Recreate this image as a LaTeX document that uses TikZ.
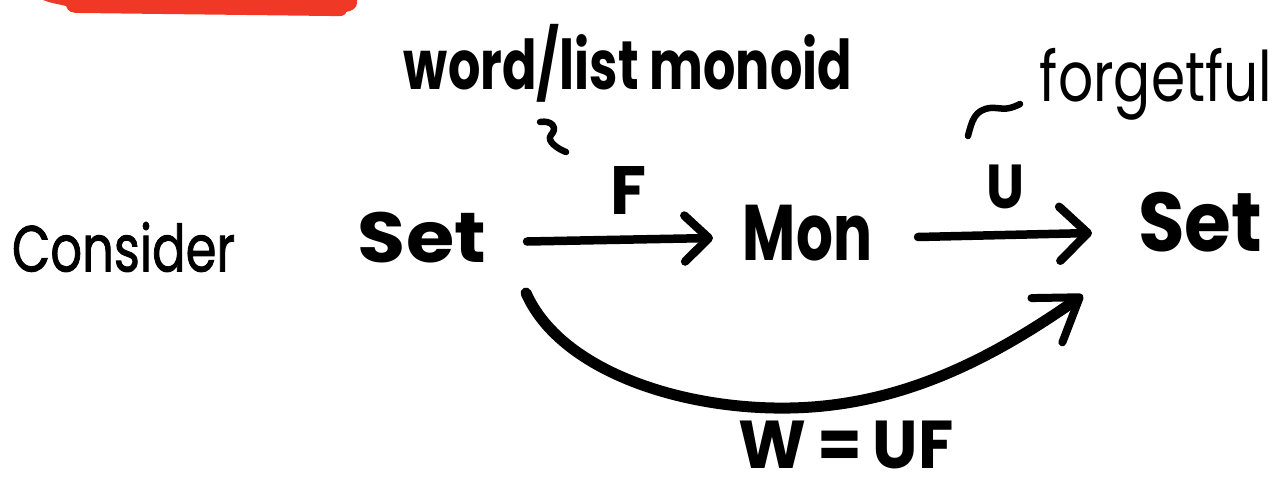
\documentclass[tikz,border=0pt]{standalone}
\usepackage{fontspec}
\usepackage{graphicx}
\setmainfont{Poppins}
\newfontfamily\medfont[FakeBold=1.5]{Poppins}
\usetikzlibrary{arrows.meta,calc}
\definecolor{redbar}{HTML}{EF3826}
\tikzset{
  txt/.style={inner sep=0pt, outer sep=0pt, anchor=center},
  shaft/.style={line width=8.5pt, line cap=round, line join=round},
  squig/.style={line width=6.5pt, line cap=round, line join=round},
}
\newcommand{\fitbox}[3]{\resizebox*{#1pt}{#2pt}{#3}}
\begin{document}
\begin{tikzpicture}[x=1pt,y=-1pt]
\useasboundingbox (0,0) rectangle (1283,482);
% red bar
\fill[redbar] (43,0) .. controls (50,3) and (58,4) .. (66,6)
  .. controls (68,12) and (72,13) .. (80,13) -- (330,16)
  .. controls (343,17) and (346,15) .. (346,12)
  .. controls (352,11) and (357,8) .. (357,3) -- (357,0) -- cycle;
% texts
\node[txt] (consider) at (123.5,247) {\fitbox{223}{50}{\medfont Consider}};
\node[txt] (setL) at (422,237.5) {\fitbox{128}{51}{\bfseries Set}};
\node[txt] (mon) at (807.5,233) {\fitbox{129}{56}{\bfseries Mon}};
\node[txt] (setR) at (1200,222) {\fitbox{124}{60}{\bfseries Set}};
\node[txt] (lF) at (628,190) {\fitbox{36}{48}{\bfseries F}};
\node[txt] (lU) at (1005,187) {\fitbox{38}{44}{\bfseries U}};
\node[txt] (lW) at (846,445) {\fitbox{215}{48}{\bfseries W\,=\,UF}};
\node[txt] (word) at (628,63) {\fitbox{448}{78}{\bfseries word/list monoid}};
\node[txt] (forget) at (1156,84) {\fitbox{232}{72}{forgetful}};
% arrows
\draw[shaft, -{Straight Barb[length=24pt,width=46pt,round]}]
  ($(setL.east)+(41,4)$) -- ($(mon.west)+(-30,5)$);
\draw[shaft, -{Straight Barb[length=28pt,width=54pt,round]}]
  ($(mon.east)+(46,4)$) -- ($(setR.west)+(-46,11)$);
\draw[line width=11pt, line cap=round, line join=round,
  -{Straight Barb[length=40pt,width=54pt,round,line width=8pt]}]
  ($(setL.south east)+(40,30)$) .. controls (560,370) and (680,410) .. (790,408)
  .. controls (900,406) and (990,360) .. ($(setR.south west)+(-55,43)$);
% annotation marks
\draw[squig] (540,122) .. controls (552,120) and (558,128) .. (551,135)
  .. controls (546,141) and (558,149) .. (566,152);
\draw[squig] (968,136) .. controls (972,120) and (975,110) .. (990,108)
  .. controls (1000,107) and (1005,112) .. (1020,104);
\end{tikzpicture}
\end{document}
